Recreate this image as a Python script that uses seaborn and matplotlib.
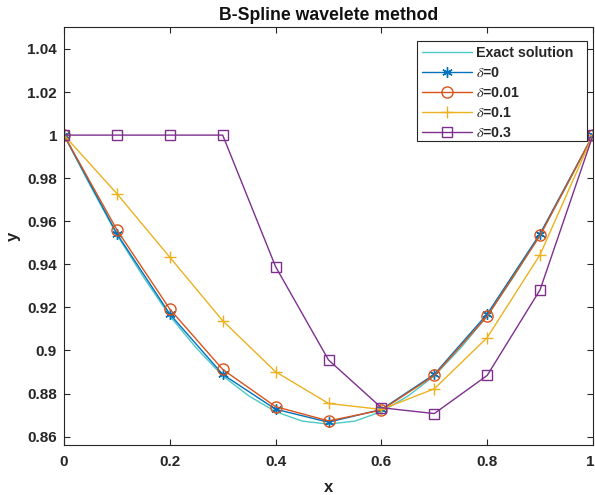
import numpy as np
import pandas as pd
import matplotlib
matplotlib.use("Agg")
import matplotlib.pyplot as plt
import matplotlib.transforms as mtransforms
from matplotlib.patches import Rectangle
import seaborn as sns
from matplotlib.ticker import FuncFormatter

# ---- data ----
x_exact = [0.0, 0.05, 0.1, 0.15, 0.2, 0.25, 0.3, 0.35, 0.4, 0.45, 0.5,
           0.55, 0.6, 0.65, 0.7, 0.75, 0.8, 0.85, 0.9, 0.95, 1.0]
y_exact = [1.0, 0.9764, 0.9537, 0.9342, 0.9160, 0.9012, 0.8882, 0.8788, 0.8716, 0.8672, 0.8658,
           0.8672, 0.8716, 0.8788, 0.8882, 0.9012, 0.9160, 0.9342, 0.9537, 0.9764, 1.0]
x_pts = [0.0, 0.1, 0.2, 0.3, 0.4, 0.5, 0.6, 0.7, 0.8, 0.9, 1.0]
y_d0 = [1.0, 0.9542, 0.9169, 0.8889, 0.8727, 0.8667, 0.8726, 0.8889, 0.9169, 0.9542, 1.0]
y_d001 = [1.0, 0.9560, 0.9192, 0.8912, 0.8739, 0.8673, 0.8723, 0.8884, 0.9159, 0.9534, 1.0]
y_d01 = [1.0, 0.9728, 0.9433, 0.9138, 0.8901, 0.8754, 0.8726, 0.8822, 0.9060, 0.9445, 1.0]
y_d03 = [1.0, 1.0, 1.0, 1.0, 0.9389, 0.8956, 0.8734, 0.8707, 0.8884, 0.9282, 1.0]
labels = ["Exact solution", r"$\delta$=0", r"$\delta$=0.01", r"$\delta$=0.1", r"$\delta$=0.3"]
title = "B-Spline wavelete method"
x_ticks = [0, 0.2, 0.4, 0.6, 0.8, 1.0]
y_ticks = [0.86, 0.88, 0.90, 0.92, 0.94, 0.96, 0.98, 1.00, 1.02, 1.04]

sns.set_theme(style="white")
plt.rcParams['font.family'] = ['Liberation Sans', 'DejaVu Sans']
plt.rcParams['mathtext.fontset'] = 'stix'

W, H = 595, 495
fig = plt.figure(figsize=(W/100, H/100), dpi=100)
ax = fig.add_axes([64/W, (H-445)/H, 529/W, 418/H])

c_exact = "#4dc9c6"
c0 = "#0072BD"
c1 = "#D95319"
c2 = "#EDB120"
c3 = "#7E2F8E"

sns.lineplot(x=x_exact, y=y_exact, ax=ax, color=c_exact, lw=1.0, label=labels[0])
sns.lineplot(x=x_pts, y=y_d0, ax=ax, color=c0, lw=1.0, marker=(6, 2, 0), ms=7.5,
             mew=1.0, mec=c0, label=labels[1])
sns.lineplot(x=x_pts, y=y_d001, ax=ax, color=c1, lw=1.0, marker='o', ms=8,
             mfc='none', mec=c1, mew=1.0, label=labels[2])
sns.lineplot(x=x_pts, y=y_d01, ax=ax, color=c2, lw=1.0, marker='+', ms=8,
             mec=c2, mew=1.0, label=labels[3])
sns.lineplot(x=x_pts, y=y_d03, ax=ax, color=c3, lw=1.0, marker='s', ms=6.5,
             mfc='none', mec=c3, mew=1.0, label=labels[4])

ax.set_xlim(0, 1)
ax.set_ylim(0.8561, 1.0502)
ax.set_xticks(x_ticks)
ax.set_yticks(y_ticks)
fmt = FuncFormatter(lambda v, p: ('%g' % round(v, 4)))
ax.xaxis.set_major_formatter(fmt)
ax.yaxis.set_major_formatter(fmt)
ax.tick_params(direction='in', length=4.5, width=0.8, colors='#262626',
               labelsize=11, top=True, right=True, bottom=True, left=True)
ax.tick_params(axis='x', pad=7)
ax.tick_params(axis='y', pad=5)
for lab in ax.get_xticklabels() + ax.get_yticklabels():
    lab.set_fontweight('bold')
# keep the last x tick label ("1") inside the canvas, as in the reference
last = ax.get_xticklabels()[-1]
last.set_transform(last.get_transform() + mtransforms.ScaledTranslation(-3/100, 0, fig.dpi_scale_trans))
for s in ax.spines.values():
    s.set_color('#262626')
    s.set_linewidth(0.8)

ax.set_title(title, fontsize=12.7, fontweight='bold', color='#111111', pad=5)
ax.set_xlabel("x", fontsize=12, fontweight='bold', color='#222222', labelpad=8)
ax.set_ylabel("y", fontsize=12, fontweight='bold', color='#222222', labelpad=5)

leg = ax.legend(loc='upper left', bbox_to_anchor=((417-64)/529, (445-41)/418), fontsize=10.3,
                frameon=False, borderpad=0.35, handlelength=3.5, handletextpad=0.3,
                labelspacing=0.42, borderaxespad=0.0)
leg.set_zorder(6)
for t in leg.get_texts():
    t.set_fontweight('bold')
box = Rectangle((417/W, (H-141)/H), 170/W, 100/H, transform=fig.transFigure,
                facecolor='white', edgecolor='#262626', linewidth=0.8, zorder=5.5, clip_on=False)
ax.add_patch(box)

fig.savefig("out.png", dpi=100)
